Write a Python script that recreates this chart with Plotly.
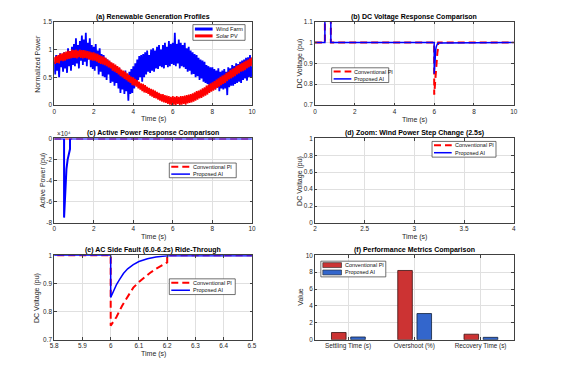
import numpy as np
import plotly.graph_objects as go

# ---------------- data ----------------
t_profile = np.linspace(0, 10, 201)
wind_farm = [
    0.78, 0.55, 0.9, 0.62, 0.85, 0.5, 0.93, 0.68, 0.88, 0.6,
    0.95, 0.66, 0.92, 0.58, 1.02, 0.7, 0.97, 0.62, 1.05, 0.72,
    1.1, 0.7, 1.2, 0.75, 1.08, 0.66, 1.15, 0.8, 1.25, 0.72,
    1.18, 0.78, 1.3, 0.7, 1.12, 0.82, 1.2, 0.68, 1.08, 0.65,
    1.05, 0.62, 1.1, 0.7, 0.98, 0.55, 1.02, 0.6, 0.92, 0.52,
    0.9, 0.5, 0.85, 0.45, 0.82, 0.55, 0.78, 0.4, 0.75, 0.42,
    0.72, 0.35, 0.7, 0.4, 0.62, 0.3, 0.66, 0.22, 0.6, 0.28,
    0.58, 0.2, 0.62, 0.25, 0.55, 0.08, 0.6, 0.2, 0.65, 0.22,
    0.7, 0.3, 0.75, 0.4, 0.82, 0.45, 0.88, 0.5, 0.9, 0.42,
    0.92, 0.5, 0.95, 0.55, 0.98, 0.6, 0.9, 0.58, 1.0, 0.62,
    1.02, 0.6, 0.98, 0.66, 1.05, 0.65, 1.08, 0.7, 1.0, 0.68,
    1.08, 0.66, 1.12, 0.72, 1.05, 0.68, 1.15, 0.7, 1.1, 0.74,
    1.12, 0.72, 1.3, 0.7, 1.1, 0.75, 1.18, 0.66, 1.12, 0.7,
    1.08, 0.68, 1.12, 0.65, 1.02, 0.6, 1.05, 0.62, 0.98, 0.55,
    0.95, 0.56, 0.92, 0.5, 0.9, 0.52, 0.85, 0.45, 0.82, 0.48,
    0.8, 0.42, 0.78, 0.4, 0.72, 0.38, 0.7, 0.32, 0.68, 0.35,
    0.68, 0.3, 0.65, 0.28, 0.62, 0.32, 0.66, 0.25, 0.6, 0.3,
    0.62, 0.28, 0.65, 0.3, 0.6, 0.18, 0.68, 0.32, 0.66, 0.35,
    0.72, 0.35, 0.7, 0.38, 0.75, 0.4, 0.74, 0.42, 0.78, 0.4,
    0.8, 0.45, 0.82, 0.48, 0.85, 0.44, 0.86, 0.5, 0.9, 0.5,
    0.7,
]
solar_pv = [
    0.86, 0.74, 0.88, 0.76, 0.9, 0.75, 0.92, 0.8, 0.93, 0.79,
    0.95, 0.8, 0.96, 0.82, 0.98, 0.83, 0.97, 0.84, 1.0, 0.85,
    0.99, 0.85, 1.0, 0.84, 0.98, 0.86, 1.0, 0.85, 0.99, 0.84,
    0.99, 0.85, 0.98, 0.84, 0.97, 0.82, 0.96, 0.81, 0.95, 0.8,
    0.95, 0.8, 0.93, 0.78, 0.92, 0.76, 0.9, 0.74, 0.88, 0.73,
    0.87, 0.72, 0.85, 0.7, 0.82, 0.68, 0.8, 0.66, 0.77, 0.62,
    0.75, 0.6, 0.73, 0.58, 0.7, 0.55, 0.68, 0.52, 0.64, 0.5,
    0.62, 0.47, 0.6, 0.45, 0.57, 0.42, 0.54, 0.4, 0.51, 0.36,
    0.5, 0.35, 0.47, 0.33, 0.45, 0.3, 0.42, 0.28, 0.39, 0.25,
    0.38, 0.23, 0.36, 0.22, 0.33, 0.2, 0.31, 0.17, 0.29, 0.15,
    0.28, 0.13, 0.26, 0.12, 0.24, 0.1, 0.22, 0.08, 0.2, 0.06,
    0.2, 0.05, 0.18, 0.04, 0.17, 0.02, 0.16, 0.01, 0.15, 0.0,
    0.16, 0.01, 0.15, 0.0, 0.16, 0.02, 0.15, 0.0, 0.16, 0.01,
    0.16, 0.02, 0.17, 0.01, 0.18, 0.03, 0.19, 0.04, 0.2, 0.05,
    0.21, 0.06, 0.23, 0.08, 0.25, 0.1, 0.26, 0.12, 0.28, 0.13,
    0.3, 0.15, 0.32, 0.17, 0.35, 0.19, 0.37, 0.22, 0.39, 0.24,
    0.41, 0.26, 0.43, 0.28, 0.46, 0.31, 0.48, 0.33, 0.51, 0.36,
    0.53, 0.38, 0.55, 0.4, 0.58, 0.43, 0.6, 0.46, 0.63, 0.48,
    0.65, 0.5, 0.67, 0.52, 0.7, 0.55, 0.72, 0.57, 0.74, 0.6,
    0.76, 0.61, 0.78, 0.63, 0.8, 0.66, 0.82, 0.68, 0.84, 0.7,
    0.86,
]

t_dc_pi = [0, 0.5, 0.5, 0.8, 0.8, 6.0, 6.0, 6.02, 6.04, 6.06, 6.08, 6.1,
           6.12, 6.14, 6.16, 6.18, 6.2, 6.2, 10]
v_dc_pi = [1, 1, 2.5, 2.5, 1, 1, 0.75, 0.78, 0.82, 0.855, 0.885, 0.905,
           0.922, 0.938, 0.952, 0.964, 0.975, 1, 1]
t_dc_ai = [0, 0.5, 0.5, 0.8, 0.8, 6.0, 6.0, 6.01, 6.02, 6.03, 6.045, 6.06,
           6.08, 6.1, 6.13, 6.16, 6.2, 10]
v_dc_ai = [1, 1, 2.5, 2.5, 1, 1, 0.85, 0.875, 0.895, 0.912, 0.935, 0.952,
           0.967, 0.978, 0.988, 0.994, 0.998, 1]

t_p_pi = [0, 10]
p_pi = [0, 0]                      # units of 1e4
t_p_ai = [0, 0.5, 0.5, 0.56, 0.62, 0.68, 0.74, 0.8, 0.8, 10]
p_ai = [0, 0, -7.5, -4.4, -2.9, -2.0, -1.4, -1.0, 0, 0]   # units of 1e4

metric_names = ["Settling Time (s)", "Overshoot (%)", "Recovery Time (s)"]
metric_pi = [0.85, 8.2, 0.65]
metric_ai = [0.32, 3.1, 0.28]

# ---------------- style ----------------
FONT = "Liberation Sans, Arial, Helvetica, sans-serif"
RED = "#FF0000"
BLUE = "#0000FF"
BAR_RED = "#CC3333"
BAR_BLUE = "#3366CC"
AX = "#404040"
GRID = "#e0e0e0"
TICK_SIZE = 6.4
LABEL_SIZE = 7
TITLE_SIZE = 7
LEG_SIZE = 5.5
DASH = "7px,4px"
W, H = 562, 380

def px_x(p):
    return p / W

def px_y(p):
    return 1 - p / H

XD = [[px_x(51), px_x(252)], [px_x(316), px_x(518)]]
YD = [[px_y(103), px_y(18)], [px_y(223), px_y(137)], [px_y(342), px_y(256)]]

fig = go.Figure()

def axis(domain, anchor, rng, tickvals, ticktext=None):
    d = dict(domain=domain, anchor=anchor, range=rng, tickvals=tickvals,
             showline=True, linecolor=AX, linewidth=0.8, mirror="ticks",
             ticks="inside", ticklen=2.5, tickwidth=0.7, tickcolor=AX,
             showgrid=True, gridcolor=GRID, gridwidth=0.7, zeroline=False,
             tickfont=dict(family=FONT, size=TICK_SIZE, color="#262626"),
             fixedrange=True)
    if ticktext is not None:
        d["ticktext"] = ticktext
    return d

lay = {}
lay["xaxis"] = axis(XD[0], "y", [0, 10], [0, 2, 4, 6, 8, 10])
lay["yaxis"] = axis(YD[0], "x", [0, 1.5], [0, 0.5, 1, 1.5], ["0", "0.5", "1", "1.5"])
lay["xaxis2"] = axis(XD[1], "y2", [0, 10], [0, 2, 4, 6, 8, 10])
lay["yaxis2"] = axis(YD[0], "x2", [0.7, 1.1], [0.7, 0.8, 0.9, 1.0, 1.1],
                     ["0.7", "0.8", "0.9", "1", "1.1"])
lay["xaxis3"] = axis(XD[0], "y3", [0, 10], [0, 2, 4, 6, 8, 10])
lay["yaxis3"] = axis(YD[1], "x3", [-8, 0], [-8, -6, -4, -2, 0],
                     ["-8", "-6", "-4", "-2", "0"])
lay["xaxis4"] = axis(XD[1], "y4", [2, 4], [2, 2.5, 3, 3.5, 4], ["2", "2.5", "3", "3.5", "4"])
lay["yaxis4"] = axis(YD[1], "x4", [0, 1], [0, 0.2, 0.4, 0.6, 0.8, 1],
                     ["0", "0.2", "0.4", "0.6", "0.8", "1"])
lay["xaxis5"] = axis(XD[0], "y5", [5.8, 6.5], [5.8, 5.9, 6.0, 6.1, 6.2, 6.3, 6.4, 6.5],
                     ["5.8", "5.9", "6", "6.1", "6.2", "6.3", "6.4", "6.5"])
lay["yaxis5"] = axis(YD[2], "x5", [0.7, 1.0], [0.7, 0.8, 0.9, 1.0], ["0.7", "0.8", "0.9", "1"])
lay["xaxis6"] = axis(XD[1], "y6", [-0.5, 2.5], [0, 1, 2], metric_names)
lay["yaxis6"] = axis(YD[2], "x6", [0, 10], [0, 2, 4, 6, 8, 10])

# ---------- traces ----------
def line(x, y, color, width, dash, xa, ya, name):
    fig.add_trace(go.Scatter(x=x, y=y, mode="lines", name=name, showlegend=False,
                             line=dict(color=color, width=width, dash=dash),
                             xaxis=xa, yaxis=ya))

line(t_profile, wind_farm, BLUE, 1.8, "solid", "x", "y", "Wind Farm")
line(t_profile, solar_pv, RED, 1.6, "solid", "x", "y", "Solar PV")
line(t_dc_pi, v_dc_pi, RED, 2, DASH, "x2", "y2", "Conventional PI")
line(t_dc_ai, v_dc_ai, BLUE, 1.5, "solid", "x2", "y2", "Proposed AI")
line(t_p_pi, p_pi, RED, 2, DASH, "x3", "y3", "Conventional PI")
line(t_p_ai, p_ai, BLUE, 2, "solid", "x3", "y3", "Proposed AI")
line([], [], RED, 2, DASH, "x4", "y4", "Conventional PI")
line([], [], BLUE, 1.5, "solid", "x4", "y4", "Proposed AI")
line(t_dc_pi, v_dc_pi, RED, 2, DASH, "x5", "y5", "Conventional PI")
line(t_dc_ai, v_dc_ai, BLUE, 1.5, "solid", "x5", "y5", "Proposed AI")

fig.add_trace(go.Bar(x=[0, 1, 2], y=metric_pi, name="Conventional PI", width=0.22, offset=-0.25,
                     marker=dict(color=BAR_RED, line=dict(color="#3a1010", width=0.8)),
                     showlegend=False, xaxis="x6", yaxis="y6"))
fig.add_trace(go.Bar(x=[0, 1, 2], y=metric_ai, name="Proposed AI", width=0.22, offset=0.04,
                     marker=dict(color=BAR_BLUE, line=dict(color="#10203a", width=0.8)),
                     showlegend=False, xaxis="x6", yaxis="y6"))

# ---------- text & compact legends ----------
ann = []
shapes = []

def text(x, y, s, size=LABEL_SIZE, bold=False, angle=0, color="#262626", xanchor="center"):
    ann.append(dict(x=px_x(x), y=px_y(y), xref="paper", yref="paper",
                    text=("<b>%s</b>" % s) if bold else s,
                    showarrow=False, textangle=angle, xanchor=xanchor, yanchor="middle",
                    font=dict(family=FONT, size=size, color=color)))

def legend_box(box, sx, tx, rows):
    x0, y0, x1, y1 = box
    shapes.append(dict(type="rect", xref="paper", yref="paper", layer="above",
                       x0=px_x(x0), x1=px_x(x1), y0=px_y(y1), y1=px_y(y0),
                       fillcolor="white", line=dict(color="#333333", width=0.7)))
    for yy, kind, color, width, dash, label in rows:
        if kind == "line":
            shapes.append(dict(type="line", xref="paper", yref="paper", layer="above",
                               x0=px_x(sx[0]), x1=px_x(sx[1]), y0=px_y(yy), y1=px_y(yy),
                               line=dict(color=color, width=width, dash=dash)))
        else:
            shapes.append(dict(type="rect", xref="paper", yref="paper", layer="above",
                               x0=px_x(sx[0]), x1=px_x(sx[1]), y0=px_y(yy + 2.5), y1=px_y(yy - 2.5),
                               fillcolor=color, line=dict(color="#222222", width=0.6)))
        text(tx, yy, label, size=LEG_SIZE, color="#111111", xanchor="left")

PI_L = ("line", RED, 2, DASH, "Conventional PI")
AI_L = ("line", BLUE, 1.5, "solid", "Proposed AI")
legend_box((192, 21, 245, 37), (194, 212), 213,
           [(25.5, "line", BLUE, 3, "solid", "Wind Farm"), (32.5, "line", RED, 3, "solid", "Solar PV")])
legend_box((333, 65, 391, 80), (335, 353), 354, [(68.8,) + PI_L, (76.3,) + AI_L])
legend_box((168, 162, 236, 177), (170, 189), 190, [(165.8,) + PI_L, (173.3,) + AI_L])
legend_box((435, 140, 500, 156), (437, 455), 456, [(144,) + PI_L, (151.5,) + AI_L])
legend_box((168, 280, 235, 296), (170, 189), 190, [(284,) + PI_L, (291.6,) + AI_L])
legend_box((322, 262, 388, 278), (324, 343), 345,
           [(266, "rect", BAR_RED, 0, None, "Conventional PI"),
            (273.5, "rect", BAR_BLUE, 0, None, "Proposed AI")])

cxa = (51 + 252) / 2
cxb = (316 + 518) / 2
text(cxa, 13, "(a) Renewable Generation Profiles", size=TITLE_SIZE, bold=True, color="#000")
text(cxb, 13, "(b) DC Voltage Response Comparison", size=TITLE_SIZE, bold=True, color="#000")
text(cxa, 131, "(c) Active Power Response Comparison", size=TITLE_SIZE, bold=True, color="#000")
text(cxb, 131, "(d) Zoom: Wind Power Step Change (2.5s)", size=TITLE_SIZE, bold=True, color="#000")
text(cxa, 251, "(e) AC Side Fault (6.0-6.2s) Ride-Through", size=TITLE_SIZE, bold=True, color="#000")
text(cxb, 251, "(f) Performance Metrics Comparison", size=TITLE_SIZE, bold=True, color="#000")

for cx, y in [(cxa, 117), (cxb, 118), (cxa, 237), (cxb, 237), (cxa, 357)]:
    text(cx, y, "Time (s)")
text(34, (18 + 103) / 2, "Normalized Power", angle=-90)
text(301, (18 + 103) / 2, "DC Voltage (pu)", angle=-90)
text(39, (137 + 223) / 2, "Active Power (pu)", angle=-90)
text(300, (137 + 223) / 2, "DC Voltage (pu)", angle=-90)
text(34, (256 + 342) / 2, "DC Voltage (pu)", angle=-90)
text(301, (256 + 342) / 2, "Value", angle=-90)
text(52, 132, "×10⁴", size=TICK_SIZE, xanchor="left")

fig.update_layout(**lay)
fig.update_layout(width=W, height=H, margin=dict(l=0, r=0, t=0, b=0), showlegend=False,
                  paper_bgcolor="white", plot_bgcolor="white", barmode="overlay",
                  annotations=ann, shapes=shapes, font=dict(family=FONT))
fig.write_html("out.html", config={"displayModeBar": False},
               post_script="document.body.style.margin='0';document.body.style.padding='0';"
                           "document.body.style.overflow='hidden';")
